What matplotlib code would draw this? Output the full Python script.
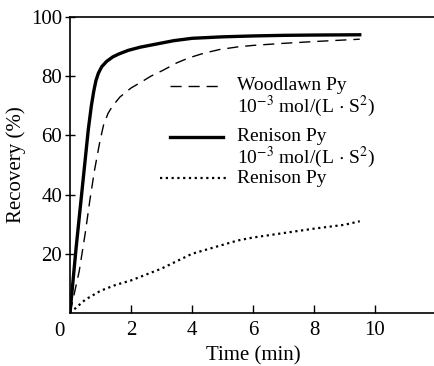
import matplotlib.pyplot as plt
from matplotlib.lines import Line2D

plt.rcParams['font.family'] = ['Liberation Serif', 'DejaVu Serif']
plt.rcParams['mathtext.fontset'] = 'stix'

# recovery curves (time in min, recovery in %)
t_woodlawn = [0, 0.3, 0.5, 0.65, 0.8, 0.98, 1.1, 1.25, 1.4, 1.64, 2.0, 2.3, 2.65, 3.05, 3.5,
              3.9, 4.4, 4.9, 5.5, 6.0, 7.0, 8.0, 9.5]
r_woodlawn = [0, 14, 27, 38, 48, 58, 63.5, 67.5, 70, 73, 76, 77.8, 80, 82, 84.5,
              86.2, 87.8, 89, 89.9, 90.4, 91.1, 91.7, 92.5]

t_renison_act = [0, 0.2, 0.4, 0.6, 0.7, 0.78, 0.85, 0.93, 1.04, 1.2, 1.4, 1.6, 1.9, 2.3, 2.8,
                 3.4, 4.0, 5.0, 6.0, 7.0, 8.0, 9.5]
r_renison_act = [0, 22, 42, 62, 70, 75, 78.5, 81, 83.2, 85, 86.5, 87.5, 88.7, 89.8, 90.8,
                 92, 92.8, 93.3, 93.6, 93.8, 93.9, 94]

t_renison = [0, 0.5, 1.0, 1.5, 2.0, 2.5, 3.0, 3.5, 4.0, 4.5, 5.0, 5.5, 6.0, 7.0, 8.0, 9.0, 9.5]
r_renison = [0, 4.5, 7.5, 9.5, 11, 13, 15, 17.5, 20, 21.5, 23, 24.5, 25.5, 27, 28.5, 29.8, 31]

labels = ['Woodlawn Py', 'Renison Py', 'Renison Py']
unit_label = r'10$^{-3}$ mol/(L$\,\cdot\,$S$^{2}$)'

fig = plt.figure(figsize=(4.34, 3.66), dpi=100)
ax = fig.add_axes([70 / 434, 53 / 366, 366 / 434, 296 / 366])

dash = (0, (8, 5))
dot = (0, (1, 1.6))
ax.plot(t_woodlawn, r_woodlawn, color='black', lw=1.0, ls=dash)
ax.plot(t_renison_act, r_renison_act, color='black', lw=2.4)
ax.plot(t_renison, r_renison, color='black', lw=1.6, ls=dot)

ax.set_xlim(0, 12)
ax.set_ylim(0, 100)
ax.spines['right'].set_visible(False)
for s in ['left', 'top', 'bottom']:
    ax.spines[s].set_linewidth(1.2)

ax.set_xticks([2, 4, 6, 8, 10])
ax.set_yticks([20, 40, 60, 80, 100])
ax.tick_params(axis='x', direction='in', length=6, width=1, labelsize=15, pad=6)
ax.tick_params(axis='y', direction='inout', length=7, width=1, labelsize=15, pad=2)
ax.text(-0.36, -3.0, '0', ha='center', va='top', fontsize=15)

ax.set_xlabel('Time (min)', fontsize=15, labelpad=4)
ax.set_ylabel('Recovery (%)', fontsize=15, labelpad=4)

# legend drawn by hand so the handle sits against the first text line
styles = [dict(lw=1.0, ls=dash), dict(lw=2.4, ls='-'), dict(lw=1.6, ls=dot)]
handle_x = [(0.273, 0.418), (0.273, 0.418), (0.246, 0.432)]
rows = [0.767, 0.595, 0.456]
for lab, st, hx, y in zip(labels, styles, handle_x, rows):
    ax.add_line(Line2D(hx, [y, y], transform=ax.transAxes, color='black', **st))
    ax.text(0.456, y, lab, transform=ax.transAxes, ha='left', va='center', fontsize=14)
for y in [0.697, 0.526]:
    ax.text(0.456, y, unit_label, transform=ax.transAxes, ha='left', va='center', fontsize=14)

fig.savefig('out.png', dpi=100)
